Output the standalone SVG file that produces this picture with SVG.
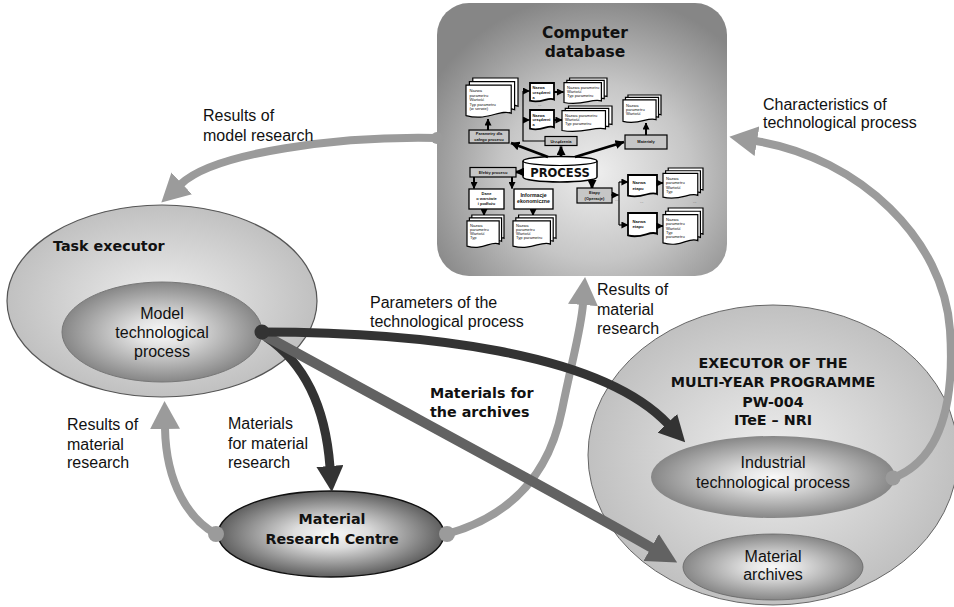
<svg xmlns="http://www.w3.org/2000/svg" width="954" height="607" viewBox="0 0 954 607">
<defs>
<style>
.lbl{font-family:"Liberation Sans",Arial,sans-serif;font-size:16px;fill:#111}
.lblb{font-family:"DejaVu Sans",Verdana,sans-serif;font-weight:bold;font-size:14.3px;fill:#111}
.mid{text-anchor:middle}
.mini{font-family:"Liberation Sans",Arial,sans-serif;font-size:4.1px;fill:#111}
.minib{font-family:"Liberation Sans",Arial,sans-serif;font-size:4px;font-weight:bold;fill:#111}
.box{fill:#c6c6c6;stroke:#000;stroke-width:1.2}
.wbox{fill:#fff;stroke:#000;stroke-width:1.3}
.ln{fill:none;stroke:#000;stroke-width:1.2}
.ln2{fill:none;stroke:#000;stroke-width:2}
.thick{fill:none;stroke:#000;stroke-width:2.8}
.g-arrow{fill:none;stroke:#9b9b9b;stroke-width:8}
.d-arrow{fill:none;stroke:#333;stroke-width:9}
.a-arrow{fill:none;stroke:#626262;stroke-width:10}
</style>
<radialGradient id="dbGrad" cx="0.55" cy="0.62" r="0.65">
<stop offset="0" stop-color="#eeeeee"/>
<stop offset="0.5" stop-color="#c6c6c6"/>
<stop offset="1" stop-color="#868686"/>
</radialGradient>
<radialGradient id="lightGrad" cx="0.5" cy="0.5" r="0.55">
<stop offset="0" stop-color="#eeeeee"/>
<stop offset="1" stop-color="#bcbcbc"/>
</radialGradient>
<radialGradient id="innerGrad" cx="0.5" cy="0.5" r="0.55">
<stop offset="0" stop-color="#f8f8f8"/>
<stop offset="0.25" stop-color="#e2e2e2"/>
<stop offset="1" stop-color="#7a7a7a"/>
</radialGradient>
<radialGradient id="mrcGrad" cx="0.5" cy="0.5" r="0.55">
<stop offset="0" stop-color="#f8f8f8"/>
<stop offset="0.3" stop-color="#dddddd"/>
<stop offset="1" stop-color="#4c4c4c"/>
</radialGradient>
<marker id="mk-black" viewBox="0 0 8 8" refX="7.5" refY="4" markerWidth="7" markerHeight="7" markerUnits="userSpaceOnUse" orient="auto">
<path d="M0,0 L8,4 L0,8 z" fill="#000"/>
</marker>
<marker id="mk-black-lg" viewBox="0 0 9 9" refX="8.5" refY="4.5" markerWidth="9" markerHeight="9" markerUnits="userSpaceOnUse" orient="auto">
<path d="M0,0 L9,4.5 L0,9 z" fill="#000"/>
</marker>
<marker id="mk-grey" viewBox="0 0 28 30" refX="1" refY="15" markerWidth="28" markerHeight="30" markerUnits="userSpaceOnUse" orient="auto">
<path d="M0,0 L28,15 L0,30 z" fill="#9b9b9b"/>
</marker>
<marker id="mk-dark" viewBox="0 0 26 27" refX="1" refY="13.5" markerWidth="26" markerHeight="27" markerUnits="userSpaceOnUse" orient="auto">
<path d="M0,0 L26,13.5 L0,27 z" fill="#333"/>
</marker>
<marker id="mk-mid" viewBox="0 0 30 31" refX="1" refY="15.5" markerWidth="30" markerHeight="31" markerUnits="userSpaceOnUse" orient="auto">
<path d="M0,0 L30,15.5 L0,31 z" fill="#626262"/>
</marker>
<!-- single sheet with wavy lower edge -->
<symbol id="doc" viewBox="0 0 40 30" preserveAspectRatio="none" overflow="visible">
<path d="M0,0 H40 V26 C30,21 20,33 0,28 Z" fill="#fff" stroke="#000" vector-effect="non-scaling-stroke"/>
</symbol>
<!-- three sheets stacked -->
<symbol id="stack" viewBox="0 0 46 34" preserveAspectRatio="none" overflow="visible">
<path transform="translate(6,0)" d="M0,0 H40 V24 C30,20 20,31 0,26 Z" fill="#fff" stroke="#000" vector-effect="non-scaling-stroke"/>
<path transform="translate(3,3)" d="M0,0 H40 V24 C30,20 20,31 0,26 Z" fill="#fff" stroke="#000" vector-effect="non-scaling-stroke"/>
<path transform="translate(0,6)" d="M0,0 H40 V24 C30,20 20,31 0,26 Z" fill="#fff" stroke="#000" vector-effect="non-scaling-stroke"/>
</symbol>
</defs>

<rect x="0" y="0" width="954" height="607" fill="#fff"/>

<!-- Task executor -->
<g id="task-executor">
<ellipse cx="162" cy="301" rx="155" ry="96" fill="url(#lightGrad)" stroke="#555" stroke-width="1.2"/>
<text class="lblb" x="53" y="251">Task executor</text>
</g>

<g id="model-process">
<ellipse cx="162" cy="332" rx="100" ry="50" fill="url(#innerGrad)" stroke="#777" stroke-width="1"/>
<text class="lbl mid" x="162" y="319">Model</text>
<text class="lbl mid" x="162" y="338">technological</text>
<text class="lbl mid" x="162" y="357">process</text>
</g>

<g id="material-research-centre">
<ellipse cx="331" cy="534" rx="113" ry="43" fill="url(#mrcGrad)" stroke="#111" stroke-width="1.5"/>
<text class="lblb mid" x="332" y="524">Material</text>
<text class="lblb mid" x="332" y="544">Research Centre</text>
</g>

<g id="programme-executor">
<ellipse cx="773" cy="455" rx="185" ry="150" fill="url(#lightGrad)" stroke="#666" stroke-width="1"/>
<text class="lblb mid" x="773" y="368">EXECUTOR OF THE</text>
<text class="lblb mid" x="773" y="387">MULTI-YEAR PROGRAMME</text>
<text class="lblb mid" x="773" y="407">PW-004</text>
<text class="lblb mid" x="773" y="425">ITeE – NRI</text>
</g>

<g id="industrial-process">
<ellipse cx="773" cy="477" rx="122" ry="41" fill="url(#innerGrad)"/>
<text class="lbl mid" x="773" y="468">Industrial</text>
<text class="lbl mid" x="773" y="488">technological process</text>
</g>

<g id="material-archives">
<ellipse cx="773" cy="567" rx="90" ry="33" fill="url(#innerGrad)" stroke="#666" stroke-width="0.8"/>
<text class="lbl mid" x="773" y="562">Material</text>
<text class="lbl mid" x="773" y="580">archives</text>
</g>

<!-- Computer database with its structure chart -->
<g id="computer-database">
<rect x="437" y="3" width="290" height="273" rx="32" fill="url(#dbGrad)"/>
<text class="lblb mid" style="font-size:15.5px" x="585" y="38">Computer</text>
<text class="lblb mid" style="font-size:15.5px" x="585" y="57">database</text>

<!-- parameters of the whole process -->
<use href="#stack" x="466" y="78" width="52" height="40" stroke-width="1.2"/>
<text class="mini" x="469.5" y="92">Nazwa</text>
<text class="mini" x="469.5" y="96.5">parametru</text>
<text class="mini" x="469.5" y="101">Wartość</text>
<text class="mini" x="469.5" y="105.5">Typ parametru</text>
<text class="mini" x="469.5" y="110">(w serwie)</text>
<rect class="box" x="469" y="130" width="40" height="13"/>
<text class="minib mid" x="489" y="135.3">Parametry dla</text>
<text class="minib mid" x="489" y="140.5">całego procesu</text>
<path class="ln2" d="M488,130 V119" marker-end="url(#mk-black)"/>

<!-- devices -->
<rect class="box" x="545" y="136.5" width="32" height="9"/>
<text class="minib mid" x="561" y="142.6">Urządzenia</text>
<path class="ln" d="M545,141 H523 V91"/>
<path class="ln" d="M523,91 H529.5" marker-end="url(#mk-black)"/>
<path class="ln" d="M523,120 H529.5" marker-end="url(#mk-black)"/>
<use href="#doc" x="530" y="83" width="24" height="19" stroke-width="1.8"/>
<text class="minib" style="font-size:3.9px" x="532.5" y="89">Nazwa</text>
<text class="minib" style="font-size:3.9px" x="532.5" y="93.8">urządzeni</text>
<text class="minib" style="font-size:3.9px" x="532.5" y="98.6">a</text>
<use href="#doc" x="530" y="110" width="24" height="20" stroke-width="1.8"/>
<text class="minib" style="font-size:3.9px" x="532.5" y="116.5">Nazwa</text>
<text class="minib" style="font-size:3.9px" x="532.5" y="121.3">urządzeni</text>
<text class="minib" style="font-size:3.9px" x="532.5" y="126.1">a</text>
<text class="mini" x="538" y="106">...</text>
<path class="ln2" d="M554,92 H563.5" marker-end="url(#mk-black)"/>
<path class="ln2" d="M554,120 H562" marker-end="url(#mk-black)"/>
<use href="#stack" x="564" y="78" width="43" height="26" stroke-width="1.2"/>
<text class="mini" x="567" y="88.5">Nazwa parametru</text>
<text class="mini" x="567" y="92.8">Wartość</text>
<text class="mini" x="567" y="97.1">Typ parametru</text>
<text class="mini" x="586" y="107">...</text>
<use href="#stack" x="562" y="106" width="50" height="26" stroke-width="1.2"/>
<text class="mini" x="565" y="116.5">Nazwa parametru</text>
<text class="mini" x="565" y="120.8">Wartość</text>
<text class="mini" x="565" y="125.1">Typ parametru</text>

<!-- materials -->
<rect class="box" x="625" y="135" width="42" height="14"/>
<text class="minib mid" x="646" y="143.3">Materiały</text>
<path class="ln2" d="M646,135 V123" marker-end="url(#mk-black)"/>
<use href="#stack" x="623" y="95" width="38" height="28" stroke-width="1.2"/>
<text class="mini" x="626" y="106.5">Nazwa</text>
<text class="mini" x="626" y="110.8">parametru</text>
<text class="mini" x="626" y="115.1">Wartość</text>

<!-- process -->
<path d="M523,161 V177 A37,5 0 0 0 597,177 V161 A37,4.5 0 0 0 523,161 Z" fill="#fff" stroke="#000" stroke-width="1.5"/>
<path d="M523,161 A37,4.5 0 0 0 597,161" fill="none" stroke="#000" stroke-width="1.2"/>
<text class="lblb mid" style="font-size:11.5px" x="560" y="176.5">PROCESS</text>
<path class="thick" d="M548,157 L511,143" marker-end="url(#mk-black-lg)"/>
<path class="thick" d="M561,157 V146.5" marker-end="url(#mk-black-lg)"/>
<path class="thick" d="M575,157 L624,142" marker-end="url(#mk-black-lg)"/>
<path class="thick" d="M523,172 H515.5" marker-end="url(#mk-black-lg)"/>
<path class="thick" d="M592,183 V188.5" marker-end="url(#mk-black-lg)"/>

<!-- process effects -->
<rect class="box" x="470" y="167.5" width="46" height="9.5"/>
<text class="minib mid" x="493" y="173.8">Efekty procesu</text>
<path class="ln2" d="M474,177 V188.5" marker-end="url(#mk-black)"/>
<path class="ln2" d="M512,177 V188.5" marker-end="url(#mk-black)"/>
<rect class="wbox" x="469" y="189" width="35" height="20"/>
<text class="minib mid" x="486.5" y="195">Dane</text>
<text class="minib mid" x="486.5" y="200">o warstwie</text>
<text class="minib mid" x="486.5" y="205">i podłożu</text>
<rect class="wbox" x="514" y="189" width="39" height="20"/>
<text class="minib mid" style="font-size:5.2px" x="533.5" y="196.8">Informacje</text>
<text class="minib mid" style="font-size:5.2px" x="533.5" y="202.8">ekonomiczne</text>
<path class="ln2" d="M484,209 V215.5" marker-end="url(#mk-black)"/>
<path class="ln2" d="M533,209 V215.5" marker-end="url(#mk-black)"/>
<use href="#stack" x="467" y="215" width="37" height="33" stroke-width="1.2"/>
<text class="mini" x="470" y="226.5">Nazwa</text>
<text class="mini" x="470" y="230.8">parametru</text>
<text class="mini" x="470" y="235.1">Wartość</text>
<text class="mini" x="470" y="239.4">Typ</text>
<use href="#stack" x="513" y="215" width="43" height="33" stroke-width="1.2"/>
<text class="mini" x="516" y="226.5">Nazwa</text>
<text class="mini" x="516" y="230.8">parametru</text>
<text class="mini" x="516" y="235.1">Wartość</text>
<text class="mini" x="516" y="239.4">Typ parametru</text>

<!-- stages -->
<rect class="box" x="577" y="188" width="35" height="15"/>
<text class="minib mid" x="594.5" y="194.3">Etapy</text>
<text class="minib mid" x="594.5" y="199.8">(Operacje)</text>
<path class="ln" d="M611,195 H618.5" marker-end="url(#mk-black)"/>
<path class="ln" d="M619,182 V225"/>
<path class="ln" d="M619,182 H628" marker-end="url(#mk-black)"/>
<path class="ln" d="M619,225 H628" marker-end="url(#mk-black)"/>
<text class="mini" x="615" y="201">...</text>
<use href="#doc" x="628" y="175" width="29" height="22" stroke-width="1.8"/>
<text class="minib" style="font-size:4.2px" x="632.5" y="184">Nazwa</text>
<text class="minib" style="font-size:4.2px" x="632.5" y="189.5">etapu</text>
<text class="mini" x="640" y="203">...</text>
<use href="#doc" x="628" y="213" width="29" height="24" stroke-width="1.8"/>
<text class="minib" style="font-size:4.2px" x="632.5" y="222.5">Nazwa</text>
<text class="minib" style="font-size:4.2px" x="632.5" y="228">etapu</text>
<path class="ln2" d="M657,183 H663" marker-end="url(#mk-black)"/>
<path class="ln2" d="M657,226 H663" marker-end="url(#mk-black)"/>
<use href="#stack" x="663" y="168" width="40" height="31" stroke-width="1.2"/>
<text class="mini" x="666" y="180">Nazwa</text>
<text class="mini" x="666" y="184.3">parametru</text>
<text class="mini" x="666" y="188.6">Wartość</text>
<text class="mini" x="666" y="192.9">Typ</text>
<text class="mini" x="693" y="203">...</text>
<use href="#stack" x="663" y="208" width="40" height="37" stroke-width="1.2"/>
<text class="mini" x="666" y="221">Nazwa</text>
<text class="mini" x="666" y="225.3">parametru</text>
<text class="mini" x="666" y="229.6">Wartość</text>
<text class="mini" x="666" y="233.9">Typ</text>
<text class="mini" x="666" y="238.2">parametru</text>
</g>

<!-- connectors between the units -->
<g id="connectors">
<path class="g-arrow" d="M437,138 C340,136 215,152 181,184" marker-end="url(#mk-grey)"/>
<circle cx="437" cy="138" r="6" fill="#9b9b9b"/>
<path class="g-arrow" d="M893,478 C940,460 955,405 950,330 C944,240 860,158 756,141" marker-end="url(#mk-grey)"/>
<circle cx="893" cy="478" r="7.5" fill="#9b9b9b"/>
<path class="g-arrow" d="M216,534 C190,520 166,485 165,428" marker-end="url(#mk-grey)"/>
<circle cx="216" cy="534" r="8" fill="#9b9b9b"/>
<path class="g-arrow" d="M447,534 C515,515 550,470 562,410 C572,360 581,330 583,304" marker-end="url(#mk-grey)"/>
<circle cx="447" cy="534" r="8" fill="#9b9b9b"/>
<path class="d-arrow" d="M266,337 C300,360 325,400 330,467" marker-end="url(#mk-dark)"/>
<path class="a-arrow" d="M262,334 C400,410 560,495 652,548" marker-end="url(#mk-mid)"/>
<path class="d-arrow" d="M262,332 C420,332 600,352 668,424" marker-end="url(#mk-dark)"/>
<circle cx="262" cy="332" r="7.5" fill="#333"/>
</g>

<g id="connector-labels">
<text class="lbl" x="203" y="121">Results of</text>
<text class="lbl" x="203" y="141">model research</text>
<text class="lbl" x="763" y="110">Characteristics of</text>
<text class="lbl" x="763" y="128">technological process</text>
<text class="lbl" x="370" y="308">Parameters of the</text>
<text class="lbl" x="370" y="327">technological process</text>
<text class="lbl" x="597" y="295">Results of</text>
<text class="lbl" x="597" y="315">material</text>
<text class="lbl" x="597" y="334">research</text>
<text class="lblb" x="430" y="398">Materials for</text>
<text class="lblb" x="430" y="417">the archives</text>
<text class="lbl" x="67" y="430">Results of</text>
<text class="lbl" x="67" y="450">material</text>
<text class="lbl" x="67" y="468">research</text>
<text class="lbl" x="228" y="429">Materials</text>
<text class="lbl" x="228" y="449">for material</text>
<text class="lbl" x="228" y="468">research</text>
</g>
</svg>
